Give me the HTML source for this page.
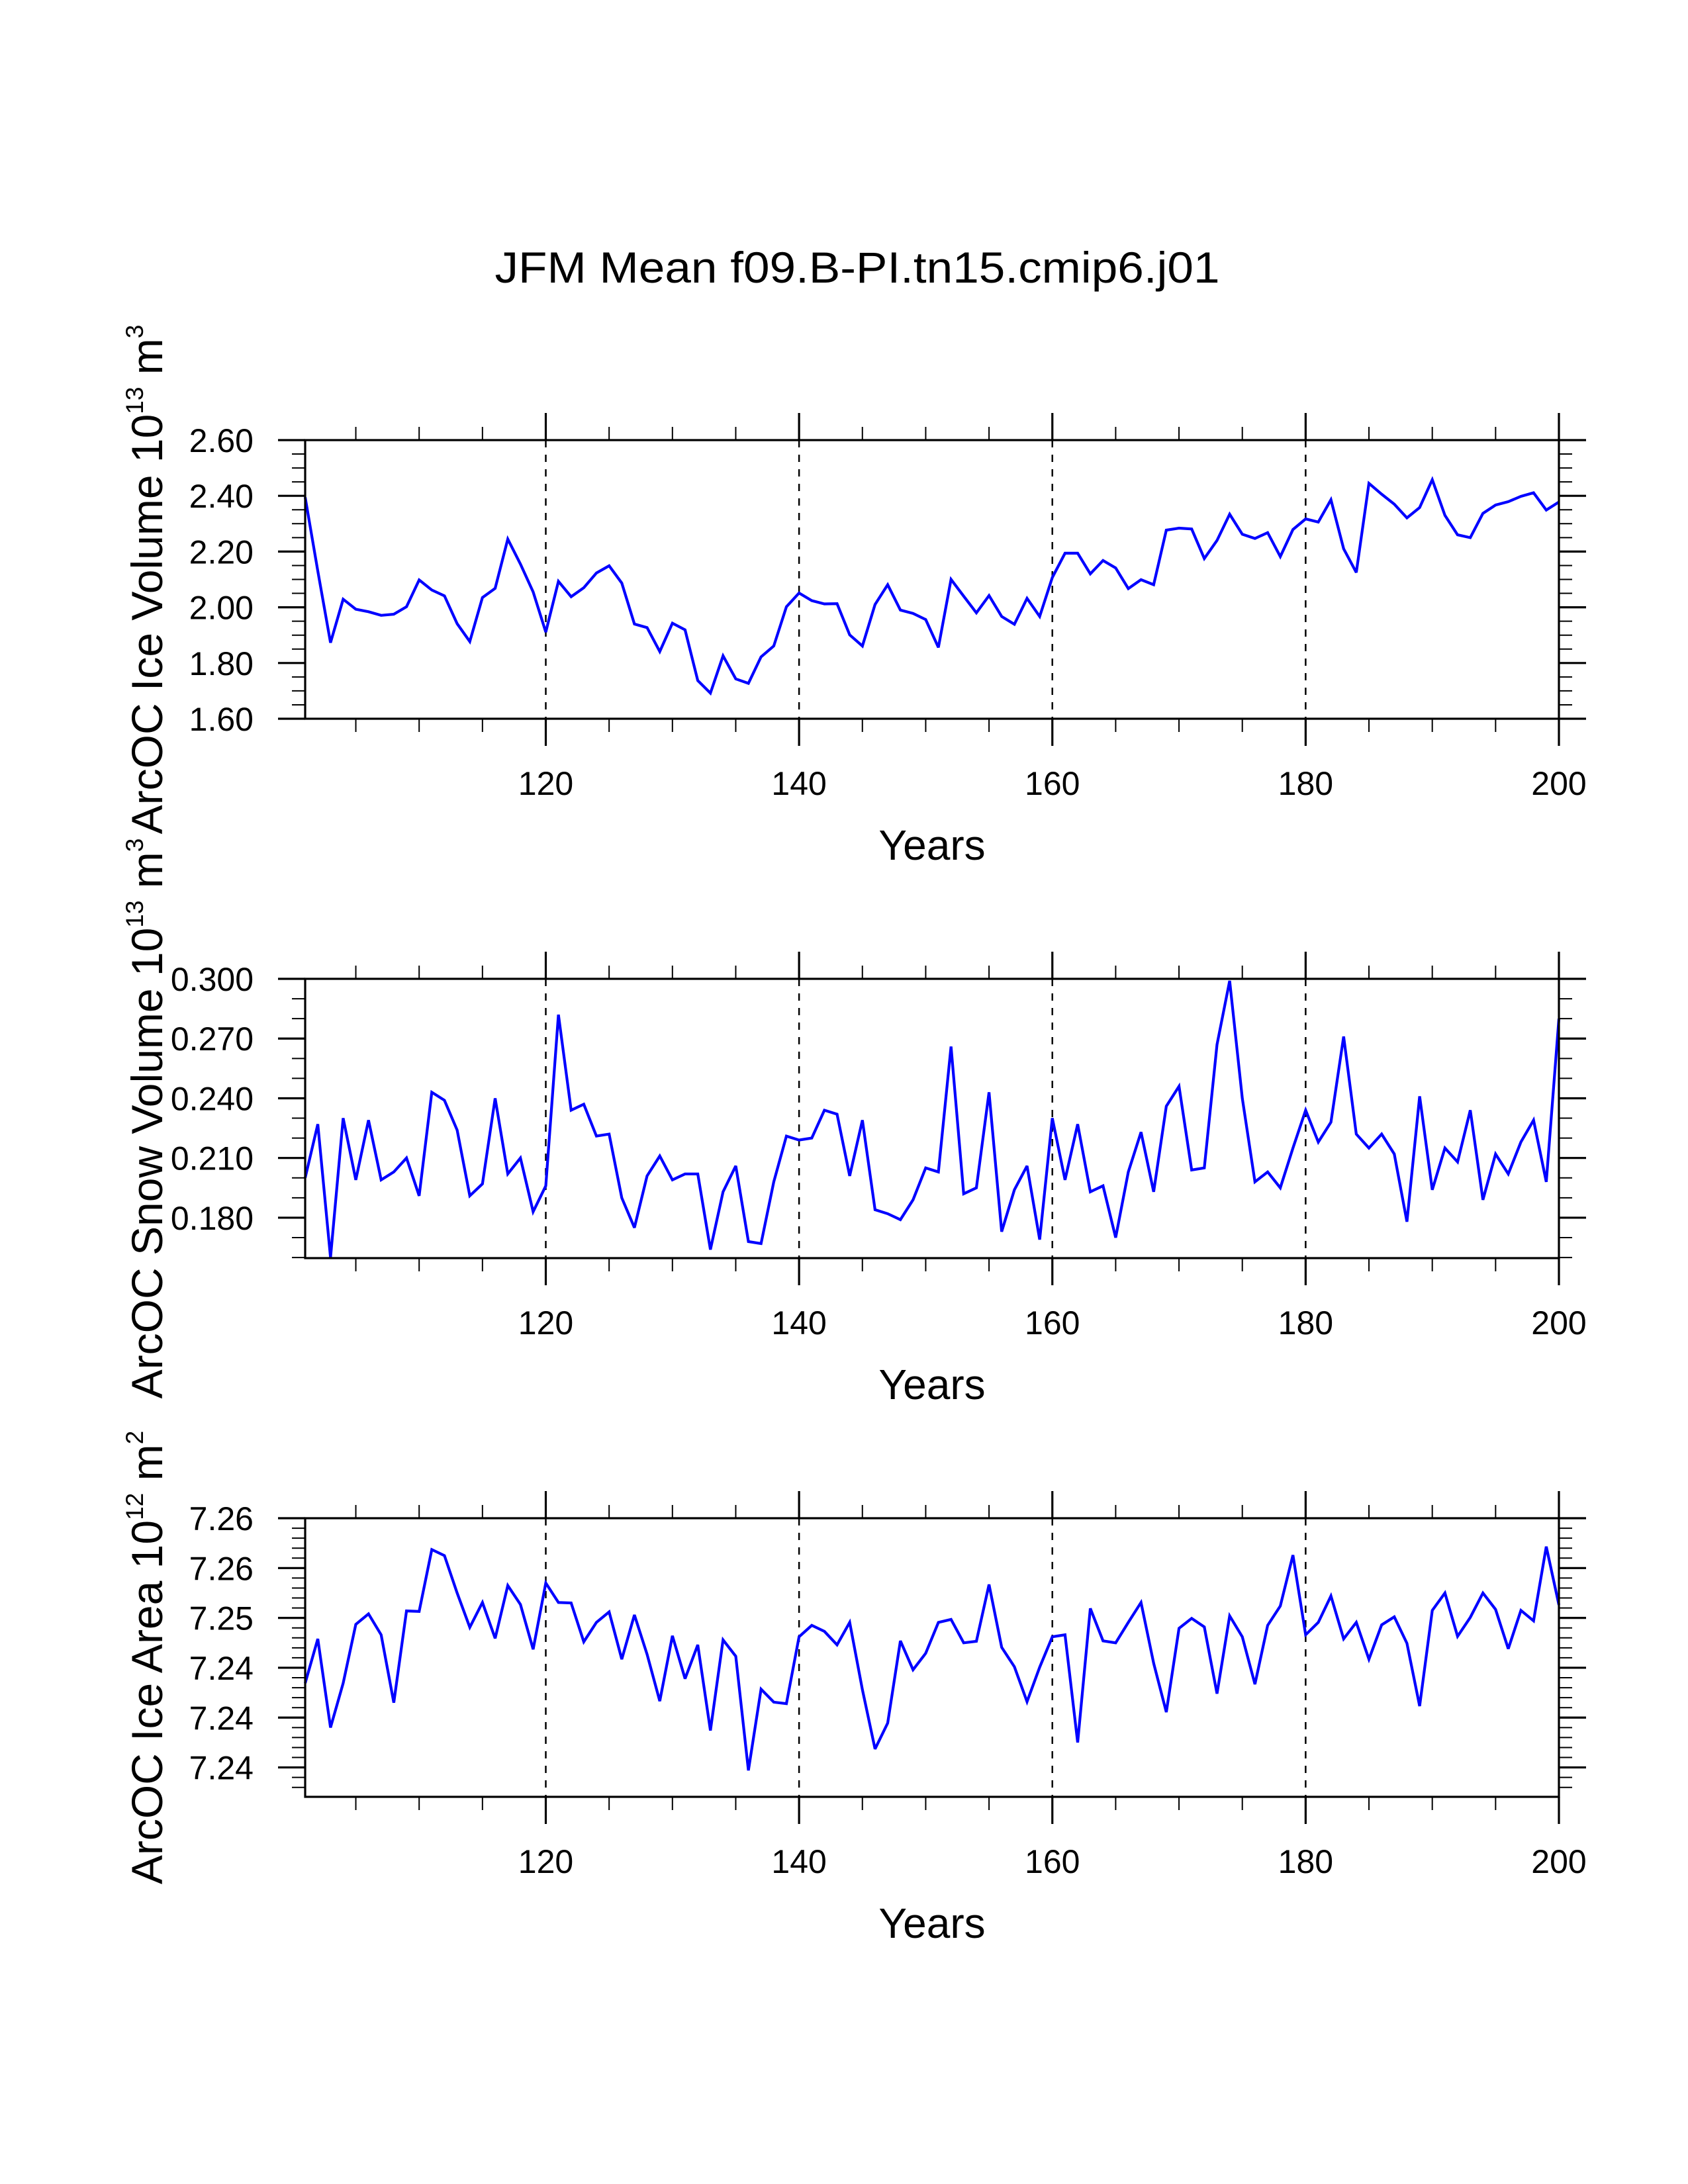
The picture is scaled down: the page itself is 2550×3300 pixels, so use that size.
<!DOCTYPE html>
<html><head><meta charset="utf-8"><title>JFM Mean f09.B-PI.tn15.cmip6.j01</title>
<style>html,body{margin:0;padding:0;background:#fff}svg{display:block}text{font-family:"Liberation Sans",Arial,sans-serif;fill:#000}</style>
</head><body>
<svg id="chart" xmlns="http://www.w3.org/2000/svg" width="2550" height="3300" viewBox="0 0 2550 3300">
<rect x="0" y="0" width="2550" height="3300" fill="#fff"/>
<text x="1295" y="427" font-size="66" text-anchor="middle" textLength="1095" lengthAdjust="spacingAndGlyphs">JFM Mean f09.B-PI.tn15.cmip6.j01</text>
</svg>
<script>
const years = [101,102,103,104,105,106,107,108,109,110,111,112,113,114,115,116,117,118,119,120,121,122,123,124,125,126,127,128,129,130,131,132,133,134,135,136,137,138,139,140,141,142,143,144,145,146,147,148,149,150,151,152,153,154,155,156,157,158,159,160,161,162,163,164,165,166,167,168,169,170,171,172,173,174,175,176,177,178,179,180,181,182,183,184,185,186,187,188,189,190,191,192,193,194,195,196,197,198,199,200];
const iceVolume = [2.395,2.13,1.873,2.029,1.993,1.984,1.971,1.975,2.002,2.098,
2.062,2.041,1.941,1.877,2.035,2.068,2.245,2.155,2.055,1.911,
2.093,2.038,2.070,2.123,2.149,2.087,1.940,1.927,1.841,1.943,
1.919,1.737,1.692,1.826,1.743,1.727,1.822,1.861,2.002,2.051,
2.024,2.012,2.013,1.901,1.861,2.010,2.081,1.990,1.978,1.956,
1.856,2.100,2.040,1.980,2.042,1.967,1.939,2.032,1.967,2.107,
2.194,2.194,2.120,2.168,2.141,2.067,2.099,2.081,2.277,2.284,
2.281,2.175,2.240,2.334,2.262,2.247,2.268,2.182,2.279,2.317,
2.306,2.386,2.210,2.125,2.445,2.406,2.370,2.321,2.358,2.458,
2.330,2.260,2.250,2.337,2.367,2.379,2.398,2.411,2.349,2.378];
const snowVolume = [0.200,0.227,0.160,0.230,0.199,0.229,0.199,0.203,0.210,0.191,
0.243,0.239,0.224,0.191,0.197,0.240,0.202,0.210,0.183,0.196,
0.282,0.234,0.237,0.221,0.222,0.190,0.175,0.201,0.211,0.199,
0.202,0.202,0.164,0.193,0.206,0.168,0.167,0.198,0.221,0.219,
0.220,0.234,0.232,0.201,0.229,0.184,0.182,0.179,0.189,0.205,
0.203,0.266,0.192,0.195,0.243,0.173,0.194,0.206,0.169,0.230,
0.199,0.227,0.193,0.196,0.170,0.203,0.223,0.193,0.236,0.246,
0.204,0.205,0.267,0.299,0.240,0.198,0.203,0.195,0.215,0.234,
0.218,0.228,0.271,0.222,0.215,0.222,0.212,0.178,0.241,0.194,
0.215,0.208,0.234,0.189,0.212,0.202,0.218,0.229,0.198,0.280];
const iceArea = [7.24876,7.25232,7.24520,7.24876,7.25348,7.25432,7.25264,7.24720,7.25456,7.25452,
7.25948,7.25900,7.25600,7.25324,7.25524,7.25236,7.25660,7.25508,7.25148,7.25680,
7.25524,7.25520,7.25208,7.25364,7.25448,7.25068,7.25424,7.25108,7.24732,7.25256,
7.24912,7.25184,7.24496,7.25224,7.25092,7.24176,7.24828,7.24724,7.24712,7.25248,
7.25340,7.25292,7.25184,7.25364,7.24824,7.24348,7.24556,7.25216,7.24984,7.25116,
7.25364,7.25388,7.25200,7.25212,7.25668,7.25164,7.25008,7.24728,7.25004,7.25248,
7.25264,7.24400,7.25476,7.25216,7.25200,7.25364,7.25524,7.25036,7.24644,7.25316,
7.25396,7.25328,7.24792,7.25416,7.25248,7.24868,7.25340,7.25496,7.25904,7.25264,
7.25364,7.25576,7.25232,7.25364,7.25068,7.25344,7.25408,7.25196,7.24692,7.25460,
7.25600,7.25252,7.25404,7.25600,7.25468,7.25152,7.25460,7.25376,7.25972,7.25504];
const xMajorTicks = [120,140,160,180,200];
const xMajorLabels = ["120","140","160","180","200"];
const xMinorTicks = [105,110,115,125,130,135,145,150,155,165,170,175,185,190,195];
const gridYears = [120,140,160,180];
const volTicks = [1.60,1.80,2.00,2.20,2.40,2.60];
const volLabels = ["1.60","1.80","2.00","2.20","2.40","2.60"];
const volMinor = [1.65,1.70,1.75,1.85,1.90,1.95,2.05,2.10,2.15,2.25,2.30,2.35,2.45,2.50,2.55];
const snowTicks = [0.18,0.21,0.24,0.27,0.30];
const snowLabels = ["0.180","0.210","0.240","0.270","0.300"];
const snowMinor = [0.16,0.17,0.19,0.20,0.22,0.23,0.25,0.26,0.28,0.29];
const areaTicks = [7.262,7.258,7.254,7.250,7.246,7.242];
const areaLabels = ["7.26","7.26","7.25","7.24","7.24","7.24"];
const areaMinor = [7.2612,7.2604,7.2596,7.2588,7.2572,7.2564,7.2556,7.2548,7.2532,7.2524,7.2516,7.2508,7.2492,7.2484,7.2476,7.2468,7.2452,7.2444,7.2436,7.2428,7.2412,7.2404];

const NS = "http://www.w3.org/2000/svg";
const svg = document.getElementById('chart');
const X0 = 461, X1 = 2355, XMIN = 101, XMAX = 200;
function xs(v){ return X0 + (v - XMIN) * (X1 - X0) / (XMAX - XMIN); }
function mk(tag, attrs){ const e = document.createElementNS(NS, tag); for (const k in attrs) e.setAttribute(k, attrs[k]); return e; }

const panels = [
  {key:'ice-volume', top:665, bot:1086, ymin:1.60, ymax:2.60, data:iceVolume, ticks:volTicks, labels:volLabels, minor:volMinor, title:['ArcOC Ice Volume 10','13',' m','3']},
  {key:'snow-volume', top:1479, bot:1901, ymin:0.1597, ymax:0.300, data:snowVolume, ticks:snowTicks, labels:snowLabels, minor:snowMinor, title:['ArcOC Snow Volume 10','13',' m','3']},
  {key:'ice-area', top:2294, bot:2715, ymin:7.23964, ymax:7.262, data:iceArea, ticks:areaTicks, labels:areaLabels, minor:areaMinor, title:['ArcOC Ice Area 10','12',' m','2']}
];

panels.forEach(function(p){
  const g = mk('g', {});
  
  
  svg.appendChild(g);
  function ys(v){ return p.bot - (v - p.ymin) * (p.bot - p.top) / (p.ymax - p.ymin); }

  gridYears.forEach(function(yr){
    const l = mk('line', {x1:xs(yr), x2:xs(yr), y1:p.top, y2:p.bot, stroke:'#000', 'stroke-width':2.5, 'stroke-dasharray':'11 11'});
    
    
    g.appendChild(l);
  });

  let d = '';
  for (let i = 0; i < years.length; i++) {
    d += (i ? 'L' : 'M') + xs(years[i]).toFixed(1) + ' ' + ys(p.data[i]).toFixed(1);
  }
  const path = mk('path', {d:d, fill:'none', stroke:'#0000ff', 'stroke-width':4.2, 'stroke-linejoin':'miter', 'stroke-miterlimit':3});
  
  
  g.appendChild(path);

  const fr = mk('rect', {x:X0, y:p.top, width:X1 - X0, height:p.bot - p.top, fill:'none', stroke:'#000', 'stroke-width':3.2});
  
  
  g.appendChild(fr);

  xMajorTicks.forEach(function(yr, i){
    const x = xs(yr);
    const t1 = mk('line', {x1:x, x2:x, y1:p.bot, y2:p.bot + 41, stroke:'#000', 'stroke-width':3.2});
    
    
    g.appendChild(t1);
    const t2 = mk('line', {x1:x, x2:x, y1:p.top, y2:p.top - 41, stroke:'#000', 'stroke-width':3.2});
    
    
    g.appendChild(t2);
    const lb = mk('text', {x:x, y:p.bot + 115, 'font-size':50, 'text-anchor':'middle'});
    lb.textContent = xMajorLabels[i];
    
    
    g.appendChild(lb);
  });
  xMinorTicks.forEach(function(yr){
    const x = xs(yr);
    const t1 = mk('line', {x1:x, x2:x, y1:p.bot, y2:p.bot + 20, stroke:'#000', 'stroke-width':2});
    
    
    g.appendChild(t1);
    const t2 = mk('line', {x1:x, x2:x, y1:p.top, y2:p.top - 20, stroke:'#000', 'stroke-width':2});
    
    
    g.appendChild(t2);
  });

  p.ticks.forEach(function(v, i){
    const y = ys(v);
    const t1 = mk('line', {x1:X0, x2:X0 - 41, y1:y, y2:y, stroke:'#000', 'stroke-width':3.2});
    
    
    g.appendChild(t1);
    const t2 = mk('line', {x1:X1, x2:X1 + 41, y1:y, y2:y, stroke:'#000', 'stroke-width':3.2});
    
    
    g.appendChild(t2);
    const lb = mk('text', {x:383, y:y + 18, 'font-size':50, 'text-anchor':'end'});
    lb.textContent = p.labels[i];
    
    
    g.appendChild(lb);
  });
  p.minor.forEach(function(v){
    const y = ys(v);
    const t1 = mk('line', {x1:X0, x2:X0 - 20, y1:y, y2:y, stroke:'#000', 'stroke-width':2});
    
    
    g.appendChild(t1);
    const t2 = mk('line', {x1:X1, x2:X1 + 20, y1:y, y2:y, stroke:'#000', 'stroke-width':2});
    
    
    g.appendChild(t2);
  });

  const xt = mk('text', {x:(X0 + X1) / 2, y:p.bot + 213, 'font-size':64, 'text-anchor':'middle'});
  xt.textContent = 'Years';
  
  
  g.appendChild(xt);

  const cy = (p.top + p.bot) / 2;
  const yt = mk('text', {x:0, y:0, 'font-size':66, 'text-anchor':'middle', transform:'translate(245,' + cy + ') rotate(-90)'});
  
  
  const s1 = mk('tspan', {}); s1.textContent = p.title[0]; yt.appendChild(s1);
  const s2 = mk('tspan', {'font-size':37, dy:-29}); s2.textContent = p.title[1]; yt.appendChild(s2);
  const s3 = mk('tspan', {dy:29}); s3.textContent = p.title[2]; yt.appendChild(s3);
  const s4 = mk('tspan', {'font-size':37, dy:-29}); s4.textContent = p.title[3]; yt.appendChild(s4);
  g.appendChild(yt);
});
</script>
</body></html>
